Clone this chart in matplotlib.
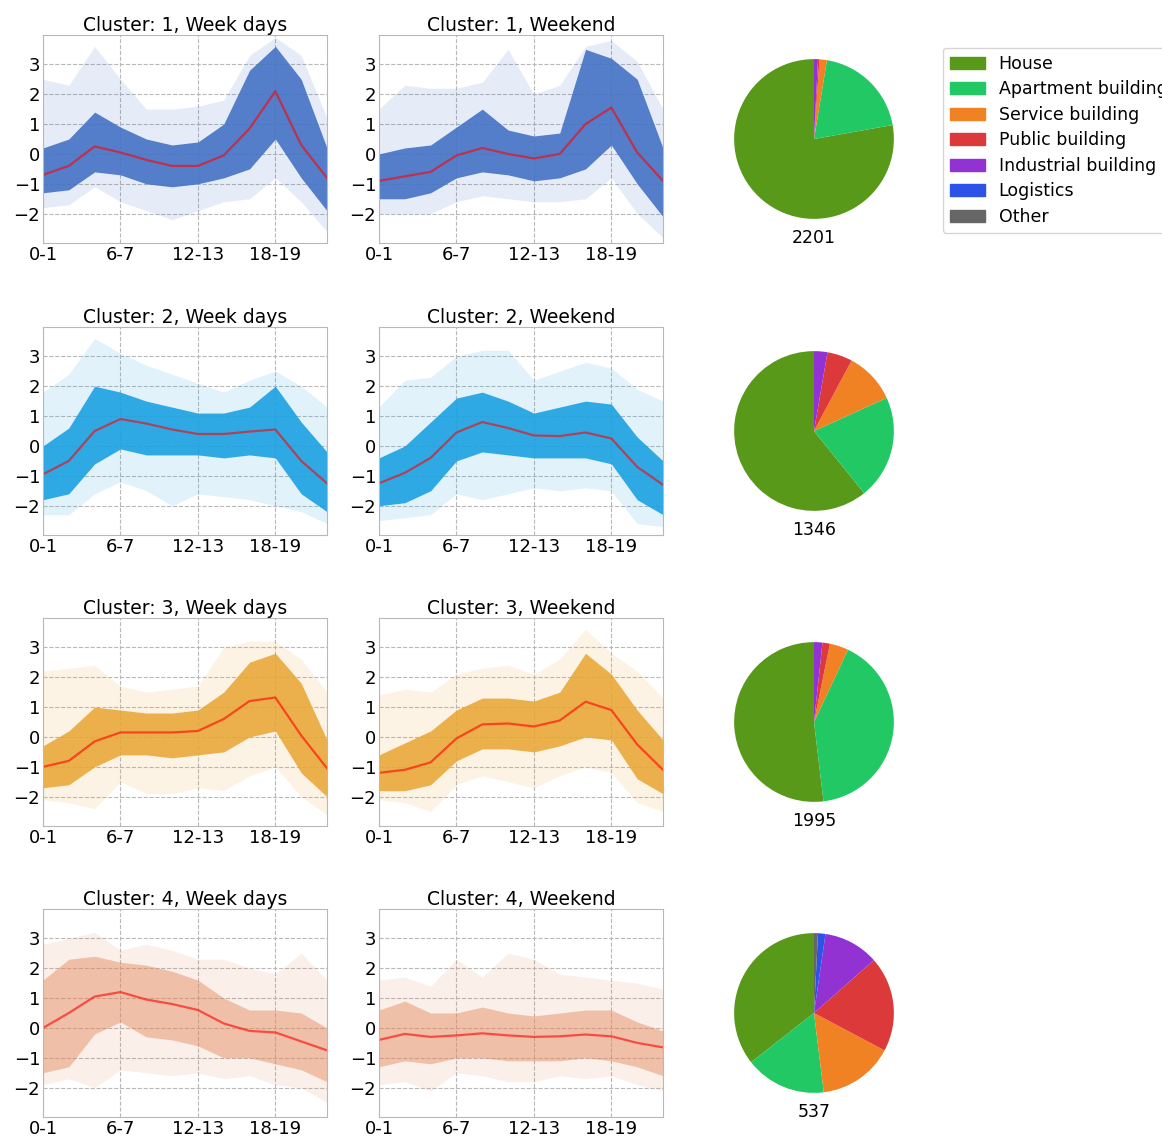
import numpy as np
import matplotlib
matplotlib.use("Agg")
import matplotlib.pyplot as plt
from matplotlib.patches import Patch

# hour bins (2-hourly points), tick labels on every third point
hours = np.arange(12)
tick_pos = [0, 3, 6, 9]
tick_labels = ["0-1", "6-7", "12-13", "18-19"]

clusters = [1, 2, 3, 4]
day_types = ["Week days", "Weekend"]
cluster_colors = ["#4472c4", "#1ba1e2", "#e8a530", "#e4855a"]
band_alpha = [0.9, 0.9, 0.85, 0.45]

# mean profile per cluster: [weekdays, weekend]
mean_profile = [
    [[-0.7, -0.4, 0.25, 0.05, -0.2, -0.4, -0.4, -0.05, 0.85, 2.1, 0.3, -0.8],
     [-0.9, -0.75, -0.6, -0.05, 0.2, 0.0, -0.15, 0.0, 1.0, 1.55, 0.05, -0.9]],
    [[-0.95, -0.5, 0.5, 0.9, 0.75, 0.55, 0.4, 0.4, 0.48, 0.55, -0.5, -1.25],
     [-1.25, -0.9, -0.4, 0.45, 0.8, 0.6, 0.35, 0.33, 0.45, 0.25, -0.7, -1.3]],
    [[-1.0, -0.8, -0.15, 0.15, 0.15, 0.15, 0.2, 0.6, 1.2, 1.32, 0.05, -1.05],
     [-1.2, -1.1, -0.85, -0.05, 0.42, 0.45, 0.35, 0.55, 1.18, 0.9, -0.25, -1.1]],
    [[0.0, 0.5, 1.05, 1.2, 0.95, 0.8, 0.6, 0.15, -0.1, -0.15, -0.45, -0.75],
     [-0.4, -0.2, -0.3, -0.25, -0.18, -0.25, -0.3, -0.28, -0.22, -0.28, -0.5, -0.65]],
]

# dense part of the profiles (lower / upper)
core_lo = [
    [[-1.3, -1.2, -0.6, -0.7, -1.0, -1.1, -1.0, -0.8, -0.5, 0.5, -0.8, -1.9],
     [-1.5, -1.5, -1.3, -0.8, -0.6, -0.7, -0.9, -0.8, -0.5, 0.3, -1.0, -2.1]],
    [[-1.8, -1.6, -0.6, -0.1, -0.3, -0.3, -0.3, -0.4, -0.3, -0.4, -1.6, -2.2],
     [-2.0, -1.9, -1.5, -0.5, -0.2, -0.3, -0.4, -0.4, -0.4, -0.6, -1.8, -2.3]],
    [[-1.7, -1.6, -1.0, -0.6, -0.6, -0.7, -0.6, -0.5, 0.0, 0.2, -1.2, -2.0],
     [-1.8, -1.8, -1.6, -0.8, -0.4, -0.4, -0.5, -0.3, 0.0, -0.1, -1.4, -1.9]],
    [[-1.5, -1.3, -0.2, 0.2, -0.3, -0.4, -0.6, -1.0, -1.0, -1.2, -1.4, -1.8],
     [-1.3, -1.1, -1.2, -1.0, -1.0, -1.1, -1.1, -1.1, -1.0, -1.1, -1.3, -1.6]],
]
core_hi = [
    [[0.2, 0.5, 1.4, 0.9, 0.5, 0.3, 0.4, 1.0, 2.8, 3.6, 2.5, 0.2],
     [0.0, 0.2, 0.3, 0.9, 1.5, 0.8, 0.6, 0.7, 3.5, 3.2, 2.5, 0.2]],
    [[0.0, 0.6, 2.0, 1.8, 1.5, 1.3, 1.1, 1.1, 1.3, 2.0, 0.8, -0.2],
     [-0.4, 0.0, 0.8, 1.6, 1.8, 1.5, 1.1, 1.3, 1.5, 1.4, 0.3, -0.5]],
    [[-0.3, 0.2, 1.0, 0.9, 0.8, 0.8, 0.9, 1.5, 2.5, 2.8, 1.8, -0.1],
     [-0.6, -0.2, 0.2, 0.9, 1.3, 1.3, 1.2, 1.5, 2.8, 2.1, 0.9, -0.1]],
    [[1.6, 2.3, 2.4, 2.2, 2.1, 1.9, 1.6, 1.0, 0.6, 0.6, 0.5, 0.0],
     [0.6, 0.9, 0.5, 0.5, 0.7, 0.5, 0.4, 0.5, 0.6, 0.6, 0.2, -0.1]],
]

# faint outer extent of the profiles
outer_lo = [
    [[-1.8, -1.7, -1.1, -1.6, -1.9, -2.2, -1.9, -1.6, -1.5, -0.8, -1.6, -2.6],
     [-2.0, -2.0, -2.0, -1.6, -1.4, -1.5, -1.6, -1.6, -1.5, -0.8, -2.0, -2.8]],
    [[-2.3, -2.3, -1.6, -1.2, -1.5, -2.0, -1.6, -1.7, -1.8, -2.0, -2.2, -2.6],
     [-2.5, -2.4, -2.3, -1.6, -1.8, -1.6, -1.4, -1.5, -1.4, -1.5, -2.6, -2.7]],
    [[-2.1, -2.2, -2.4, -1.5, -1.9, -1.9, -1.7, -1.8, -1.3, -1.0, -2.0, -2.6],
     [-2.1, -2.2, -2.5, -1.6, -1.3, -1.5, -1.7, -1.3, -1.0, -1.2, -2.2, -2.5]],
    [[-1.9, -1.7, -2.0, -1.4, -1.5, -1.6, -1.5, -1.7, -1.6, -1.9, -2.0, -2.5],
     [-1.9, -1.8, -2.1, -1.5, -1.6, -1.8, -1.8, -1.6, -1.7, -1.6, -1.9, -2.1]],
]
outer_hi = [
    [[2.5, 2.3, 3.6, 2.5, 1.5, 1.5, 1.6, 1.8, 3.3, 3.9, 3.3, 1.2],
     [1.5, 2.3, 2.2, 2.2, 2.4, 3.5, 2.0, 2.3, 3.6, 3.8, 3.1, 1.5]],
    [[1.8, 2.4, 3.6, 3.1, 2.7, 2.4, 2.1, 1.8, 2.2, 2.5, 2.0, 1.3],
     [1.3, 2.2, 2.3, 3.0, 3.2, 3.2, 2.2, 2.5, 2.8, 2.6, 1.9, 1.5]],
    [[2.2, 2.3, 2.4, 1.7, 1.5, 1.6, 1.7, 3.0, 3.2, 3.2, 2.6, 1.5],
     [1.4, 1.6, 1.5, 2.1, 2.3, 2.4, 2.1, 2.6, 3.6, 2.8, 2.2, 1.3]],
    [[2.8, 3.0, 3.2, 2.6, 2.8, 2.6, 2.3, 2.3, 2.0, 1.8, 2.5, 1.6],
     [1.6, 1.7, 1.4, 2.3, 1.7, 2.5, 2.3, 1.8, 1.7, 1.6, 1.5, 1.3]],
]

# building type shares (percent) per cluster
building_types = ["House", "Apartment building", "Service building", "Public building",
                  "Industrial building", "Logistics", "Other"]
building_colors = ["#58991a", "#22c863", "#f08224", "#dc3a3a", "#9232d2", "#2c52ea", "#666666"]
shares = [
    [77.8, 19.6, 1.5, 0.3, 0.8, 0.0, 0.0],
    [60.8, 21.0, 10.4, 5.1, 2.7, 0.0, 0.0],
    [51.9, 41.1, 3.8, 1.5, 1.7, 0.0, 0.0],
    [35.6, 16.4, 15.3, 19.3, 11.2, 1.5, 0.8],
]
cluster_sizes = [2201, 1346, 1995, 537]

W, H = 1162, 1137
fig = plt.figure(figsize=(W / 100, H / 100), dpi=100)

row_tops = [35, 327, 618, 909]
col_lefts = [43, 379]
ax_w, ax_h = 284, 208

for r, c in enumerate(clusters):
    top = row_tops[r]
    for d in range(2):
        ax = fig.add_axes([col_lefts[d] / W, 1 - (top + ax_h) / H, ax_w / W, ax_h / H])
        col = cluster_colors[r]
        ax.fill_between(hours, outer_lo[r][d], outer_hi[r][d], color=col, alpha=0.13, lw=0)
        ax.fill_between(hours, core_lo[r][d], core_hi[r][d], color=col, alpha=band_alpha[r], lw=0)
        ax.plot(hours, mean_profile[r][d], color="red", alpha=0.6, lw=1.6)
        ax.set_xlim(0, 11)
        ax.set_ylim(-2.98, 3.98)
        ax.set_xticks(tick_pos)
        ax.set_xticklabels(tick_labels)
        ax.set_yticks([-2, -1, 0, 1, 2, 3])
        ax.tick_params(labelsize=13, length=0, pad=2)
        ax.grid(True, ls="--", color="#b8b8b8", lw=0.8)
        ax.set_axisbelow(True)
        for s in ax.spines.values():
            s.set_color("#b8b8b8")
        ax.set_title(f"Cluster: {c}, {day_types[d]}", fontsize=13.5, pad=3)

    # pie of building types
    cy = top + ax_h / 2
    pax = fig.add_axes([(814 - 104) / W, 1 - (cy + 104) / H, 208 / W, 208 / H])
    pax.pie(shares[r], colors=building_colors, startangle=90, counterclock=True, radius=0.96)
    pax.text(0, -1.19, str(cluster_sizes[r]), ha="center", va="center", fontsize=12.5)

handles = [Patch(color=building_colors[i], label=building_types[i]) for i in range(len(building_types))]
leg = fig.legend(handles=handles, loc="upper left", bbox_to_anchor=(943 / W, 1 - 48 / H),
                 fontsize=12.5, handlelength=2.0, borderaxespad=0, labelspacing=0.43,
                 frameon=True, fancybox=True)
leg.get_frame().set_edgecolor("#cccccc")

fig.savefig("out.png", dpi=100)
